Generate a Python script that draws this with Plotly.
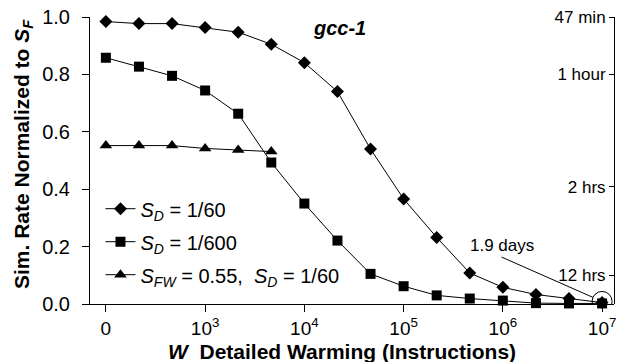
import plotly.graph_objects as go

# x categories: warming instructions (equally spaced positions)
w_labels = ["0", "250", "500", "1K", "2.5K", "5K", "10K", "25K", "50K", "100K",
            "250K", "500K", "1M", "2.5M", "5M", "10M"]
x_pos = list(range(len(w_labels)))

sd_60 = [0.984, 0.977, 0.977, 0.963, 0.947, 0.905, 0.841, 0.740, 0.540, 0.366,
         0.232, 0.108, 0.058, 0.033, 0.019, 0.005]
sd_600 = [0.858, 0.827, 0.795, 0.744, 0.663, 0.493, 0.350, 0.221, 0.105, 0.062,
          0.030, 0.019, 0.012, 0.003, 0.002, 0.002]
sfw_055 = [0.552, 0.552, 0.552, 0.542, 0.537, 0.531]

x_tickvals = [0, 3, 6, 9, 12, 15]
x_ticktext = ["0", "10<sup>3</sup>", "10<sup>4</sup>", "10<sup>5</sup>",
              "10<sup>6</sup>", "10<sup>7</sup>"]

right_tickvals = [1.0, 0.8, 0.408, 0.1]
right_ticktext = ["47 min", "1 hour", "2 hrs", "12 hrs"]

FONT = "Liberation Sans, Arial, sans-serif"

fig = go.Figure()
fig.add_trace(go.Scatter(
    x=x_pos, y=sd_60, mode="lines+markers",
    name="<i>S</i><sub><i>D</i></sub> = 1/60",
    line=dict(color="black", width=1),
    marker=dict(symbol="diamond", size=10, color="black"),
    legendgroup="a", cliponaxis=False))
fig.add_trace(go.Scatter(
    x=x_pos, y=sd_600, mode="lines+markers",
    name="<i>S</i><sub><i>D</i></sub> = 1/600",
    line=dict(color="black", width=1),
    marker=dict(symbol="square", size=10, color="black"),
    legendgroup="b", cliponaxis=False))
fig.add_trace(go.Scatter(
    x=x_pos[:len(sfw_055)], y=sfw_055, mode="lines+markers",
    name="<i>S</i><sub><i>FW</i></sub> = 0.55,  <i>S</i><sub><i>D</i></sub> = 1/60",
    line=dict(color="black", width=1),
    marker=dict(symbol="triangle-up", size=11, color="black"),
    legendgroup="c", cliponaxis=False))
# helper trace so the right axis is drawn
fig.add_trace(go.Scatter(x=[x_pos[-1]], y=[sd_60[-1]], yaxis="y2", mode="markers",
                         marker=dict(opacity=0), showlegend=False, hoverinfo="skip"))

last_x = x_pos[-1]
last_y = sd_60[-1]

fig.add_shape(type="circle", xref="x", yref="y", xsizemode="pixel", ysizemode="pixel",
              xanchor=last_x, yanchor=last_y + 0.004, x0=-10, x1=10, y0=-10, y1=10,
              line=dict(color="black", width=1))

fig.add_annotation(x=last_x, y=last_y + 0.004, xref="x", yref="y", text="",
                   showarrow=True, arrowhead=0, arrowwidth=1, arrowcolor="black",
                   ax=-102, ay=-45, standoff=10)
fig.add_annotation(x=11.96, y=0.203, xref="x", yref="y", text="1.9 days",
                   showarrow=False, font=dict(family=FONT, size=17, color="black"))
fig.add_annotation(x=7.05, y=0.962, xref="x", yref="y", text="<b><i>gcc-1</i></b>",
                   showarrow=False, font=dict(family=FONT, size=20, color="black"))

# axis titles
fig.add_annotation(x=(342 - 90) / 524, y=(304 - 351) / 287, xref="paper", yref="paper",
                   xanchor="center", yanchor="middle",
                   text="<b><i>W</i>  Detailed Warming (Instructions)</b>",
                   showarrow=False, font=dict(family=FONT, size=21, color="black"))
fig.add_annotation(x=(23 - 90) / 524, y=(304 - 154) / 287, xref="paper", yref="paper",
                   xanchor="center", yanchor="middle",
                   text="<b>Sim. Rate Normalized to <i>S</i><sub><i>F</i></sub></b>",
                   textangle=-90, showarrow=False,
                   font=dict(family=FONT, size=21, color="black"))

fig.update_layout(
    width=624, height=362,
    margin=dict(l=90, r=10, t=17, b=58),
    paper_bgcolor="white", plot_bgcolor="white",
    font=dict(family=FONT, color="black"),
    showlegend=True,
    legend=dict(x=0.02, y=0.40, xanchor="left", yanchor="top",
                font=dict(family=FONT, size=20, color="black"),
                bgcolor="rgba(0,0,0,0)", tracegroupgap=4),
    xaxis=dict(range=[-0.48, 15.36], tickvals=x_tickvals, ticktext=x_ticktext,
               ticks="outside", ticklen=7, tickcolor="black",
               showline=True, linecolor="black", linewidth=1, showgrid=False,
               zeroline=False, automargin=False,
               tickfont=dict(family=FONT, size=19, color="black")),
    yaxis=dict(range=[0, 1.0], dtick=0.2, tickformat=".1f",
               ticks="outside", ticklen=7, tickcolor="black",
               showline=True, linecolor="black", linewidth=1, showgrid=False,
               zeroline=False, automargin=False,
               tickfont=dict(family=FONT, size=20, color="black"),
               ticklabelstandoff=8),
    yaxis2=dict(range=[0, 1.0], overlaying="y", side="left", anchor="free", position=1.0,
                tickvals=right_tickvals, ticktext=right_ticktext,
                ticks="outside", ticklen=5, tickcolor="black",
                showline=True, linecolor="black", linewidth=1, showgrid=False,
                zeroline=False, automargin=False,
                tickfont=dict(family=FONT, size=17, color="black")),
)

fig.write_html("out.html", config={"displayModeBar": False},
               post_script="document.body.style.margin='0px';")
